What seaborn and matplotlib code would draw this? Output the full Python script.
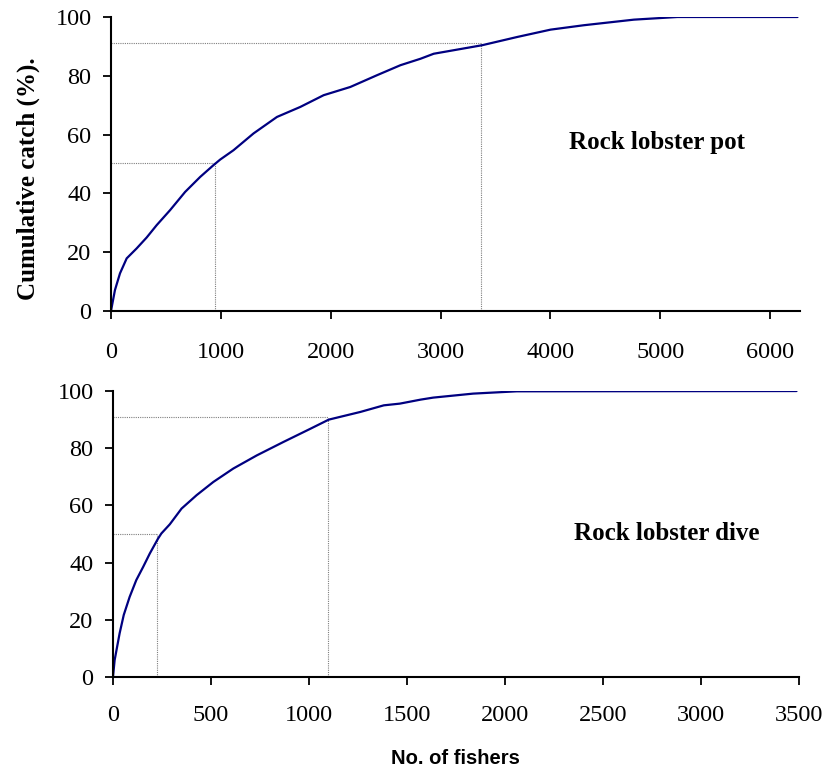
import matplotlib
matplotlib.use("Agg")
import matplotlib.pyplot as plt
import seaborn as sns
import pandas as pd

# ---- data ----
pot_x = [0, 36, 82, 143, 234, 325, 416, 538, 675, 812, 933, 994, 1116, 1298, 1511,
         1723, 1936, 2179, 2422, 2635, 2818, 2938, 3379, 3698, 4002, 4305, 4761, 5157, 6250]
pot_y = [0, 7.1, 12.8, 17.9, 21.3, 25, 29.2, 34.3, 40.5, 45.6, 49.6, 51.5, 54.7, 60.4, 66,
         69.4, 73.4, 76.2, 80.2, 83.6, 85.8, 87.5, 90.4, 93.2, 95.7, 97.2, 99.1, 100, 100]

dive_x = [0, 8.5, 34, 55, 85, 119, 154, 188, 230, 247, 290, 350, 427, 512, 614, 734,
          870, 1007, 1101, 1263, 1382, 1464, 1570, 1634, 1838, 2060, 3488]
dive_y = [0, 5.9, 15.3, 21.7, 28, 33.9, 38.5, 43.2, 48.4, 50.2, 53.4, 58.9, 63.6, 68.2,
          72.9, 77.5, 82.2, 86.8, 90, 92.7, 95, 95.6, 97, 97.7, 99.1, 99.9, 100]

pot_ref_x = [948, 3370]
pot_ref_y = [50.5, 91]
dive_ref_x = [224, 1097]
dive_ref_y = [50, 91]

pot_xticks = [0, 1000, 2000, 3000, 4000, 5000, 6000]
dive_xticks = [0, 500, 1000, 1500, 2000, 2500, 3000, 3500]
yticks = [0, 20, 40, 60, 80, 100]

labels = ["Rock lobster pot", "Rock lobster dive"]
ylabel = "Cumulative catch (%)."
xlabel = "No. of fishers"

# ---- style ----
sns.set_style("ticks")
plt.rcParams['font.family'] = ['Liberation Serif', 'DejaVu Serif']
plt.rcParams['text.color'] = 'black'
plt.rcParams['xtick.color'] = 'black'
plt.rcParams['ytick.color'] = 'black'

fig = plt.figure(figsize=(8.27, 7.69), dpi=100)
ax1 = fig.add_axes([0.1342, 0.5956, 0.8328, 0.3823])
ax2 = fig.add_axes([0.1366, 0.1196, 0.8294, 0.3719])

line_color = "#000080"
ref_kw = dict(color="#7f7f7f", lw=0.8, ls=(0, (1, 1)))

def style(ax, xticks, xmax, pad):
    ax.set_xlim(0, xmax)
    ax.set_ylim(0, 100)
    ax.set_xticks(xticks)
    ax.set_yticks(yticks)
    for s in ["top", "right"]:
        ax.spines[s].set_visible(False)
    for s in ["left", "bottom"]:
        ax.spines[s].set_linewidth(1.5)
        ax.spines[s].set_color("black")
    ax.tick_params(axis="both", direction="out", length=6, width=1.3,
                   labelsize=17.5, colors="black", labelcolor="black")
    ax.tick_params(axis="x", pad=pad)
    ax.tick_params(axis="y", pad=8)
    ax.set_xlabel("")
    ax.set_ylabel("")

# top panel
df_pot = pd.DataFrame({"x": pot_x, "y": pot_y})
for rx, ry in zip(pot_ref_x, pot_ref_y):
    ax1.plot([0, rx], [ry, ry], **ref_kw)
    ax1.plot([rx, rx], [0, ry], **ref_kw)
sns.lineplot(data=df_pot, x="x", y="y", ax=ax1, color=line_color, lw=1.6,
             estimator=None)
style(ax1, pot_xticks, 6270, 16)
ax1.text(4166, 57.4, labels[0], fontsize=18, fontweight="bold",
         ha="left", va="center", color="black")

# bottom panel
df_dive = pd.DataFrame({"x": dive_x, "y": dive_y})
for rx, ry in zip(dive_ref_x, dive_ref_y):
    ax2.plot([0, rx], [ry, ry], **ref_kw)
    ax2.plot([rx, rx], [0, ry], **ref_kw)
sns.lineplot(data=df_dive, x="x", y="y", ax=ax2, color=line_color, lw=1.6,
             estimator=None)
style(ax2, dive_xticks, 3500, 14)
ax2.text(2352, 50.3, labels[1], fontsize=18, fontweight="bold",
         ha="left", va="center", color="black")

fig.text(28 / 827, 1 - 179 / 769, ylabel, rotation=90, fontsize=18,
         fontweight="bold", ha="center", va="center", color="black")
fig.text(455 / 827, 1 - 758 / 769, xlabel, fontsize=14.5, fontweight="bold",
         ha="center", va="center", color="black",
         family=["Liberation Sans", "DejaVu Sans"])

fig.savefig("out.png", dpi=100)
